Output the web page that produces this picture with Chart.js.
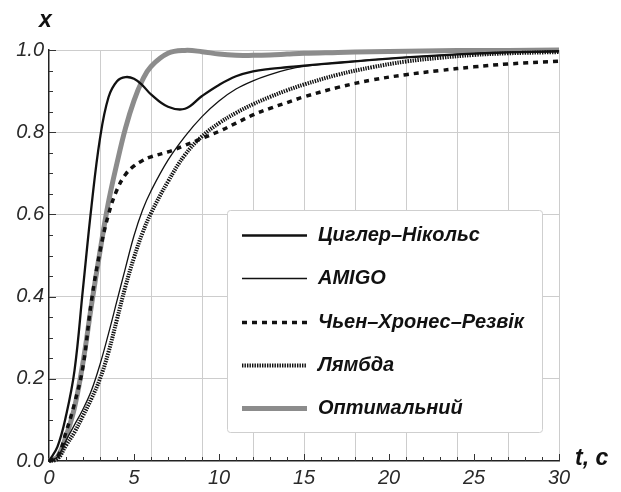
<!DOCTYPE html>
<html>
<head>
<meta charset="utf-8">
<script src="https://cdn.jsdelivr.net/npm/chart.js@4"></script>
<style>
  html, body { margin: 0; padding: 0; background: #fff; }
  #wrap { width: 621px; height: 492px; position: relative; }
</style>
</head>
<body>
<div id="wrap"><canvas id="grafico"></canvas></div>
<script>
// tempo, c
const tempos = [0, 0.5, 1, 1.5, 2, 2.5, 3, 3.5, 4, 4.5, 5, 5.5, 6, 7, 8, 9, 10, 11, 12, 13, 14, 15, 17, 19, 21, 23, 25, 27, 30];

// resposta x(t) de cada sintonia
const zieglerNichols = [0, 0.035, 0.11, 0.22, 0.42, 0.62, 0.785, 0.885, 0.924, 0.934, 0.93, 0.914, 0.892, 0.862, 0.857, 0.888, 0.915, 0.936, 0.948, 0.954, 0.958, 0.962, 0.969, 0.976, 0.982, 0.987, 0.991, 0.994, 0.997];
const amigo = [0, 0.01, 0.05, 0.088, 0.126, 0.172, 0.235, 0.31, 0.39, 0.47, 0.548, 0.61, 0.657, 0.732, 0.79, 0.838, 0.876, 0.905, 0.925, 0.94, 0.952, 0.96, 0.969, 0.976, 0.982, 0.987, 0.991, 0.994, 0.997];
const chienHrones = [0, 0.01, 0.07, 0.14, 0.23, 0.39, 0.51, 0.6, 0.66, 0.697, 0.718, 0.731, 0.74, 0.752, 0.768, 0.785, 0.802, 0.822, 0.842, 0.858, 0.872, 0.886, 0.909, 0.927, 0.94, 0.95, 0.959, 0.966, 0.973];
const lambda = [0, 0.005, 0.038, 0.07, 0.11, 0.152, 0.2, 0.265, 0.345, 0.425, 0.495, 0.555, 0.603, 0.68, 0.745, 0.79, 0.822, 0.847, 0.868, 0.886, 0.902, 0.916, 0.94, 0.958, 0.972, 0.981, 0.988, 0.992, 0.995];
const otimo = [0, 0.01, 0.06, 0.13, 0.24, 0.38, 0.51, 0.63, 0.725, 0.81, 0.877, 0.927, 0.96, 0.992, 0.999, 0.996, 0.99, 0.987, 0.987, 0.988, 0.99, 0.992, 0.994, 0.996, 0.997, 0.998, 0.999, 0.999, 1.0];

const nomes = ['Циглер–Нікольс', 'AMIGO', 'Чьен–Хронес–Резвік', 'Лямбда', 'Оптимальний'];

const fonte = "'Liberation Sans', Arial, sans-serif";

function pontos(valores) {
  return tempos.map((t, i) => ({ x: t, y: valores[i] }));
}

// fundo branco
const fundo = {
  id: 'fundo',
  beforeDraw(chart) {
    const c = chart.ctx;
    c.save();
    c.fillStyle = '#fff';
    c.fillRect(0, 0, chart.width, chart.height);
    c.restore();
  }
};

// tracinhos dos eixos (para dentro), nomes dos eixos e a legenda
const extras = {
  id: 'extras',
  afterDraw(chart) {
    const c = chart.ctx;
    const area = chart.chartArea;
    const sx = chart.scales.x;
    const sy = chart.scales.y;
    c.save();
    c.strokeStyle = '#333';
    c.lineWidth = 1;
    c.beginPath();
    for (let t = 1; t <= 30; t++) {
      const px = Math.round(sx.getPixelForValue(t)) + 0.5;
      const len = t % 5 === 0 ? 7 : 4;
      c.moveTo(px, area.bottom);
      c.lineTo(px, area.bottom - len);
    }
    for (let k = 1; k <= 20; k++) {
      const py = Math.round(sy.getPixelForValue(k * 0.05)) + 0.5;
      const len = k % 4 === 0 ? 7 : 4;
      c.moveTo(area.left, py);
      c.lineTo(area.left + len, py);
    }
    c.stroke();

    // nomes dos eixos
    c.fillStyle = '#111';
    c.font = 'bold italic 23px ' + fonte;
    c.textBaseline = 'middle';
    c.textAlign = 'left';
    c.fillText('x', area.left - 10, area.top - 29);
    c.fillText('t, c', area.right + 16, area.bottom - 2);

    // legenda
    const bx = 227, by = 210, bw = 315, bh = 222;
    c.fillStyle = '#fff';
    c.strokeStyle = '#cfcfcf';
    c.lineWidth = 1;
    c.beginPath();
    c.roundRect(bx + 0.5, by + 0.5, bw, bh, 3);
    c.fill();
    c.stroke();

    const linhas = [235, 278, 322, 365, 408];
    chart.data.datasets.forEach((ds, i) => {
      const y = Math.round(linhas[i]) + 0.5;
      c.save();
      c.strokeStyle = ds.borderColor;
      c.lineWidth = ds.borderWidth;
      c.setLineDash(ds.borderDash || []);
      c.beginPath();
      c.moveTo(242, y);
      c.lineTo(307, y);
      c.stroke();
      c.restore();
      c.fillStyle = '#111';
      c.font = 'bold italic 20px ' + fonte;
      c.textBaseline = 'middle';
      c.fillText(ds.label, 318, y);
    });
    c.restore();
  }
};

new Chart(document.getElementById('grafico'), {
  type: 'line',
  data: {
    datasets: [
      {
        label: nomes[0],
        data: pontos(zieglerNichols),
        borderColor: '#111',
        borderWidth: 2.3,
        order: 1
      },
      {
        label: nomes[1],
        data: pontos(amigo),
        borderColor: '#111',
        borderWidth: 1.3,
        order: 2
      },
      {
        label: nomes[2],
        data: pontos(chienHrones),
        borderColor: '#111',
        borderWidth: 3.5,
        borderDash: [5, 5],
        order: 3
      },
      {
        label: nomes[3],
        data: pontos(lambda),
        borderColor: '#111',
        borderWidth: 4,
        borderDash: [1.4, 1.1],
        order: 4
      },
      {
        label: nomes[4],
        data: pontos(otimo),
        borderColor: '#8c8c8c',
        borderWidth: 5,
        order: 5
      }
    ]
  },
  options: {
    responsive: true,
    maintainAspectRatio: false,
    animation: false,
    devicePixelRatio: 1,
    layout: {
      padding: { top: 50, right: 62, bottom: 0, left: 0 }
    },
    elements: {
      point: { radius: 0 },
      line: { tension: 0.4, fill: false }
    },
    clip: 8,
    plugins: {
      legend: { display: false },
      tooltip: { enabled: false }
    },
    scales: {
      x: {
        type: 'linear',
        min: 0,
        max: 30,
        afterFit(scale) { scale.height = 31; },
        border: { color: '#222', width: 1.5 },
        grid: {
          drawTicks: false,
          color: (ctx) => (ctx.tick && ctx.tick.value % 3 === 0 && ctx.tick.value > 0) ? '#cdcdcd' : 'rgba(0,0,0,0)'
        },
        ticks: {
          stepSize: 1,
          autoSkip: false,
          maxRotation: 0,
          padding: 5,
          color: '#2a2a2a',
          font: { family: fonte, size: 20, style: 'italic' },
          callback: (v) => v % 5 === 0 ? String(v) : ''
        }
      },
      y: {
        type: 'linear',
        min: 0,
        max: 1,
        afterFit(scale) { scale.width = 49; },
        border: { color: '#222', width: 1.5 },
        grid: {
          drawTicks: false,
          color: (ctx) => {
            const k = Math.round(ctx.tick.value * 100);
            return (k % 20 === 0 && k > 0) ? '#cdcdcd' : 'rgba(0,0,0,0)';
          }
        },
        ticks: {
          stepSize: 0.05,
          autoSkip: false,
          padding: 5,
          color: '#2a2a2a',
          font: { family: fonte, size: 20, style: 'italic' },
          callback: (v) => Math.round(v * 100) % 20 === 0 ? v.toFixed(1) : ''
        }
      }
    }
  },
  plugins: [fundo, extras]
});
</script>
</body>
</html>
